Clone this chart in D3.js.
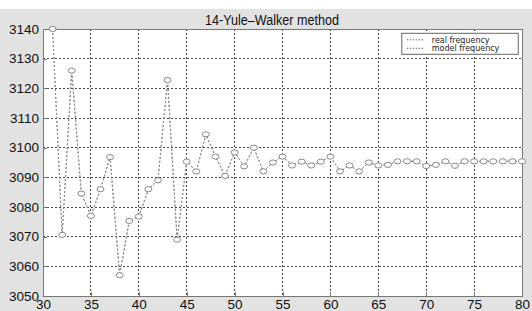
<!DOCTYPE html>
<html>
<head>
<meta charset="utf-8">
<script src="https://cdn.jsdelivr.net/npm/d3@7"></script>
<style>
	body { margin: 0; background: #fff; }
	svg { display: block; }
	.tick-label { font-family: "Liberation Sans", Arial, sans-serif; font-size: 13.5px; fill: #111; }
	.title { font-family: "Liberation Sans", Arial, sans-serif; font-size: 15px; fill: #111; }
	.legend-text { font-family: "DejaVu Sans", Verdana, sans-serif; font-size: 8px; fill: #222; }
</style>
</head>
<body>
<div id="chart-area"></div>
<script>
const steps = [31, 32, 33, 34, 35, 36, 37, 38, 39, 40, 41, 42, 43, 44, 45, 46, 47, 48, 49, 50,
	51, 52, 53, 54, 55, 56, 57, 58, 59, 60, 61, 62, 63, 64, 65, 66, 67, 68, 69, 70,
	71, 72, 73, 74, 75, 76, 77, 78, 79, 80];

const modelFreq = [3140, 3070.6, 3126, 3084.5, 3077, 3086, 3096.8, 3057, 3075.3, 3076.8,
	3086, 3089, 3122.8, 3069, 3095.3, 3092, 3104.5, 3097, 3090.5, 3098.4,
	3093.7, 3100, 3092, 3095, 3097, 3094, 3095.3, 3094, 3095.3, 3097,
	3092, 3094, 3092, 3095, 3094, 3094.2, 3095.4, 3095.4, 3095.4, 3093.8,
	3094.2, 3095.4, 3093.9, 3095.4, 3095.4, 3095.4, 3095.4, 3095.4, 3095.4, 3095.4];

const realFreq = [3140, 3070.6, 3126, 3084.5, 3077, 3086, 3096.8, 3057, 3075.3, 3076.8,
	3086, 3089, 3122.8, 3069, 3095.3, 3092, 3104.5, 3097, 3090.5, 3098.4,
	3093.7, 3100, 3092, 3095, 3097, 3094, 3095.3, 3094, 3095.3, 3097,
	3092, 3094, 3092, 3095, 3094, 3094.2, 3095.4, 3095.4, 3095.4, 3093.8,
	3094.2, 3095.4, 3093.9, 3095.4, 3095.4, 3095.4, 3095.4, 3095.4, 3095.4, 3095.4];

const xTicks = [30, 35, 40, 45, 50, 55, 60, 65, 70, 75, 80];
const yTicks = [3050, 3060, 3070, 3080, 3090, 3100, 3110, 3120, 3130, 3140];
const legendLabels = ["real frequency", "model frequency"];

const W = 532, H = 311;
const margin = { left: 43, right: 10, top: 29, bottom: 15 };
const width = W - margin.left - margin.right;
const height = H - margin.top - margin.bottom;

const svg = d3.select("#chart-area").append("svg")
	.attr("width", W)
	.attr("height", H);

// figure background, white strip on top
svg.append("rect")
	.attr("y", 9)
	.attr("width", W)
	.attr("height", H - 9)
	.attr("fill", "#e2e2e2");

const g = svg.append("g")
	.attr("transform", `translate(${margin.left},${margin.top})`);

const x = d3.scaleLinear().domain([30, 80]).range([0, width]);
const y = d3.scaleLinear().domain([3050, 3140]).range([height, 0]);

g.append("rect")
	.attr("width", width)
	.attr("height", height)
	.attr("fill", "#fff");

// grid
const grid = g.append("g")
	.attr("stroke", "#444")
	.attr("stroke-width", 1)
	.attr("stroke-dasharray", "2,2")
	.attr("shape-rendering", "crispEdges");

grid.selectAll(".gx")
	.data(xTicks.slice(1, -1))
	.join("line")
	.attr("class", "gx")
	.attr("x1", d => x(d)).attr("x2", d => x(d))
	.attr("y1", 0).attr("y2", height);

grid.selectAll(".gy")
	.data(yTicks.slice(1, -1))
	.join("line")
	.attr("class", "gy")
	.attr("x1", 0).attr("x2", width)
	.attr("y1", d => y(d)).attr("y2", d => y(d));

// axes
const xAxis = g.append("g")
	.attr("transform", `translate(0,${height})`)
	.call(d3.axisBottom(x).tickValues(xTicks).tickSize(-4).tickPadding(4));

const yAxis = g.append("g")
	.call(d3.axisLeft(y).tickValues(yTicks).tickFormat(d3.format("d")).tickSize(-4).tickPadding(4));

[xAxis, yAxis].forEach(a => {
	a.attr("shape-rendering", "crispEdges");
	a.select(".domain").attr("stroke", "#777");
	a.selectAll(".tick line").attr("stroke", "#777");
	a.selectAll(".tick text").attr("class", "tick-label").attr("fill", null);
});
xAxis.selectAll(".tick text").attr("y", 13).attr("dy", 0);

// box top/right
g.append("path")
	.attr("d", `M0,0H${width}V${height}`)
	.attr("fill", "none")
	.attr("stroke", "#777")
	.attr("shape-rendering", "crispEdges");

// series
const line = d3.line()
	.x((d, i) => x(steps[i]))
	.y(d => y(d));

g.append("path")
	.datum(realFreq)
	.attr("d", line)
	.attr("fill", "none")
	.attr("stroke", "#888")
	.attr("stroke-width", 1)
	.attr("stroke-dasharray", "2,2");

g.append("path")
	.datum(modelFreq)
	.attr("d", line)
	.attr("fill", "none")
	.attr("stroke", "#888")
	.attr("stroke-width", 1)
	.attr("stroke-dasharray", "2,2");

g.append("g")
	.selectAll("ellipse")
	.data(modelFreq)
	.join("ellipse")
	.attr("cx", (d, i) => x(steps[i]))
	.attr("cy", d => y(d))
	.attr("rx", 3.5)
	.attr("ry", 2.6)
	.attr("fill", "#fff")
	.attr("stroke", "#888")
	.attr("stroke-width", 1);

// title (narrow face)
svg.append("text")
	.attr("class", "title")
	.attr("transform", "translate(272,25) scale(0.84,1)")
	.attr("text-anchor", "middle")
	.text("14-Yule\u2013Walker method");

// legend
const legend = g.append("g")
	.attr("transform", `translate(${x(67.45)},4.3)`);

legend.append("rect")
	.attr("width", 116.5)
	.attr("height", 21)
	.attr("fill", "#fff")
	.attr("stroke", "#666");

legend.selectAll(".entry")
	.data(legendLabels)
	.join("g")
	.attr("class", "entry")
	.attr("transform", (d, i) => `translate(0,${6.5 + i * 8.5})`)
	.each(function(d) {
		const e = d3.select(this);
		e.append("line")
			.attr("x1", 5).attr("x2", 23)
			.attr("stroke", "#666")
			.attr("stroke-dasharray", "1.5,1.5");
		e.append("text")
			.attr("class", "legend-text")
			.attr("x", 30)
			.attr("y", 3)
			.text(d);
	});
</script>
</body>
</html>
